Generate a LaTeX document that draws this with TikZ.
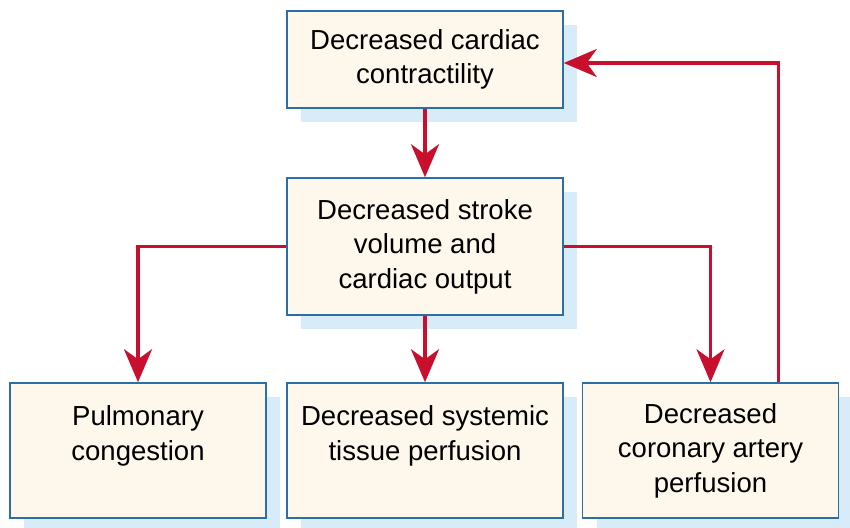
\documentclass[tikz,border=0pt]{standalone}
\usepackage{fontspec}
\setmainfont{Liberation Sans}
\usepackage{tikz}
\usetikzlibrary{arrows.meta,positioning,calc,shadows}
\definecolor{vred}{HTML}{C8102E}
\definecolor{vblue}{HTML}{2A6FA5}
\definecolor{vcream}{HTML}{FEF8EC}
\definecolor{vshade}{HTML}{D8EBF8}
\tikzset{
  box/.style={draw=vblue,fill=vcream,line width=1.3pt,align=center,inner sep=0pt,
    font=\fontsize{23.5}{29.5}\selectfont,
    drop shadow={shadow xshift=0.42cm,shadow yshift=-0.42cm,fill=vshade,opacity=1}},
  arr/.style={-{Stealth[length=0.99cm,width=0.84cm,inset=0.3cm]},line width=2.8pt,draw=vred},
}
\begin{document}
\begin{tikzpicture}[x=0.03cm,y=-0.03cm,
    wide/.style={box,minimum width=8.28cm},
    narrow/.style={box,minimum width=7.68cm,minimum height=4.05cm}]
  \useasboundingbox (0,0) rectangle (850,527);
  \node[wide,minimum height=2.91cm] (contr) at (425,59.5) {Decreased cardiac\\contractility};
  \node[wide,minimum height=4.11cm] (stroke) at (425,246.5) {Decreased stroke\\volume and\\cardiac output};
  \node[narrow] (pulm) at (138,450.5) {Pulmonary\\congestion\\\phantom{x}};
  \node[wide,minimum height=4.05cm] (tissue) at (425,450.5) {Decreased systemic\\tissue perfusion\\\phantom{x}};
  \node[narrow] (coron) at (710.5,450.5) {Decreased\\coronary artery\\perfusion};
  \draw[arr] (contr) -- (stroke);
  \draw[arr] (stroke.west) -| (pulm.north);
  \draw[arr] (stroke) -- (tissue);
  \draw[arr] (stroke.east) -| (coron.north);
  % feedback loop
  \draw[arr] ($(coron.north east)+(-61,0)$) |- ($(contr.east)+(0,3.5)$);
\end{tikzpicture}
\end{document}
